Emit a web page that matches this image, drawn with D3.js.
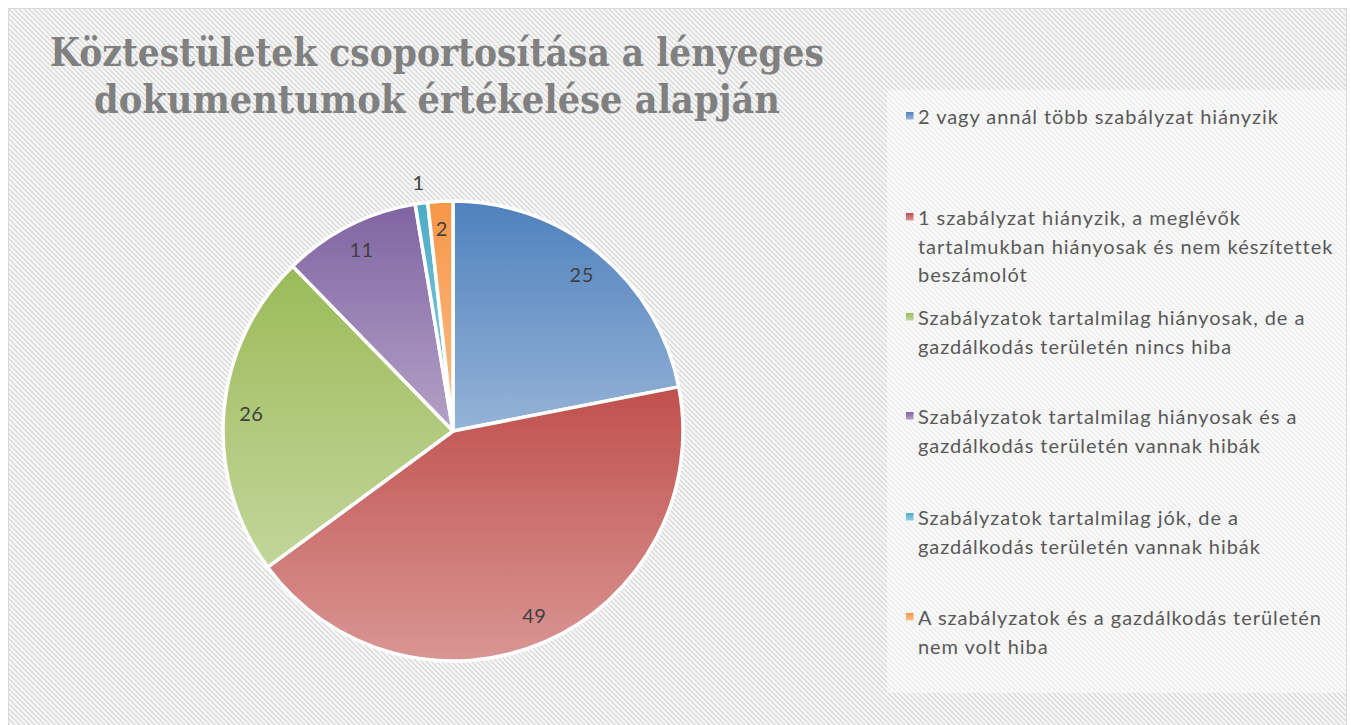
<!DOCTYPE html>
<html>
<head>
<meta charset="utf-8">
<script src="https://cdn.jsdelivr.net/npm/d3@7"></script>
<style>
  html, body { margin: 0; padding: 0; background: #ffffff; }
  svg { display: block; }
</style>
</head>
<body>
<svg id="chart" width="1351" height="725"></svg>
<script>
// ---------- data ----------
const titleLines = ["Köztestületek csoportosítása  a lényeges", "dokumentumok értékelése alapján"];
const categories = [
  "2 vagy annál több szabályzat hiányzik",
  "1 szabályzat hiányzik, a meglévők tartalmukban hiányosak és nem készítettek beszámolót",
  "Szabályzatok tartalmilag hiányosak, de a gazdálkodás területén nincs hiba",
  "Szabályzatok tartalmilag hiányosak és a gazdálkodás területén vannak hibák",
  "Szabályzatok tartalmilag jók, de a gazdálkodás területén vannak hibák",
  "A szabályzatok és a gazdálkodás területén nem volt hiba"
];
const legendLines = [
  ["2 vagy annál több szabályzat hiányzik"],
  ["1 szabályzat hiányzik, a meglévők", "tartalmukban hiányosak és nem készítettek", "beszámolót"],
  ["Szabályzatok tartalmilag hiányosak, de a", "gazdálkodás területén nincs hiba"],
  ["Szabályzatok tartalmilag hiányosak és a", "gazdálkodás területén vannak hibák"],
  ["Szabályzatok tartalmilag jók, de a", "gazdálkodás területén vannak hibák"],
  ["A szabályzatok és a gazdálkodás területén", "nem volt hiba"]
];
const values = [25, 49, 26, 11, 1, 2];
const topColors = ["#4F81BD", "#C0504D", "#9BBB59", "#8064A2", "#4BACC6", "#F79646"];
const bottomColors = ["#95B3D7", "#D99694", "#C3D69B", "#B3A2C7", "#93CDDD", "#FAC090"];

// ---------- layout ----------
const svg = d3.select("#chart");
const defs = svg.append("defs");

// hatch patterns
function hatch(id, bg, fg) {
  const p = defs.append("pattern").attr("id", id)
    .attr("patternUnits", "userSpaceOnUse").attr("width", 5).attr("height", 5);
  p.append("rect").attr("width", 5).attr("height", 5).attr("fill", bg);
  p.append("path").attr("d", "M-1,-1 L6,6 M-1,4 L1,6 M4,-1 L6,1")
    .attr("stroke", fg).attr("stroke-width", 1.7);
}
hatch("hatchMain", "#fafafa", "#dedede");
hatch("hatchLegend", "#fdfdfd", "#eeeeee");

categories.forEach((c, i) => {
  const g = defs.append("linearGradient").attr("id", "grad" + i)
    .attr("x1", 0).attr("y1", 0).attr("x2", 0).attr("y2", 1);
  g.append("stop").attr("offset", "0%").attr("stop-color", topColors[i]);
  g.append("stop").attr("offset", "100%").attr("stop-color", bottomColors[i]);
});

// chart area background + border
svg.append("rect").attr("x", 8.5).attr("y", 8.5).attr("width", 1338).attr("height", 730)
  .attr("fill", "url(#hatchMain)").attr("stroke", "#d9d9d9").attr("stroke-width", 1);

// legend area
svg.append("rect").attr("x", 887).attr("y", 90).attr("width", 459).attr("height", 603)
  .attr("fill", "url(#hatchLegend)");

// title
const title = svg.append("text")
  .attr("text-anchor", "middle")
  .attr("font-family", "'DejaVu Serif', 'Liberation Serif', serif")
  .attr("font-weight", "bold")
  .attr("font-size", 40)
  .attr("fill", "#808080");
const titleWidths = [774, 686];
titleLines.forEach((t, i) => {
  title.append("tspan").attr("x", 437).attr("y", 66 + i * 47)
    .attr("textLength", titleWidths[i]).attr("lengthAdjust", "spacingAndGlyphs")
    .text(t);
});

// pie
const cx = 453, cy = 431, r = 230;
const pie = d3.pie().sort(null).value(d => d)(values);
const arc = d3.arc().innerRadius(0).outerRadius(r);
const gPie = svg.append("g").attr("transform", `translate(${cx},${cy})`);
gPie.selectAll("path").data(pie).join("path")
  .attr("d", arc)
  .attr("fill", (d, i) => `url(#grad${i})`)
  .attr("stroke", "#ffffff")
  .attr("stroke-width", 3.5)
  .attr("stroke-linejoin", "round");

// data labels
const labelArcIn = d3.arc().innerRadius(r * 0.88).outerRadius(r * 0.88);
const labelArcOut = d3.arc().innerRadius(r + 20).outerRadius(r + 20);
gPie.selectAll("text.lbl").data(pie).join("text")
  .attr("class", "lbl")
  .attr("transform", d => {
    const small = d.value < 2;
    const p = (small ? labelArcOut : labelArcIn).centroid(d);
    return `translate(${p[0]},${p[1]})`;
  })
  .attr("text-anchor", "middle")
  .attr("dy", "0.35em")
  .attr("font-family", "Lato, 'Open Sans', sans-serif")
  .attr("font-size", 20)
  .attr("letter-spacing", 0.5)
  .attr("fill", "#404040")
  .text(d => d.value);

// legend
const legendBaselines = [124, 225, 325, 424, 525, 625];
const lineH = 28.5;
const leg = svg.append("g");
legendLines.forEach((lines, i) => {
  const y0 = legendBaselines[i];
  leg.append("rect").attr("x", 906).attr("y", y0 - 12).attr("width", 7.5).attr("height", 7.5)
    .attr("fill", `url(#grad${i})`);
  const t = leg.append("text")
    .attr("font-family", "Lato, 'Open Sans', sans-serif")
    .attr("font-size", 20)
    .attr("letter-spacing", 0.95)
    .attr("fill", "#595959");
  lines.forEach((ln, j) => {
    t.append("tspan").attr("x", 918).attr("y", y0 + j * lineH).text(ln);
  });
});
</script>
</body>
</html>
